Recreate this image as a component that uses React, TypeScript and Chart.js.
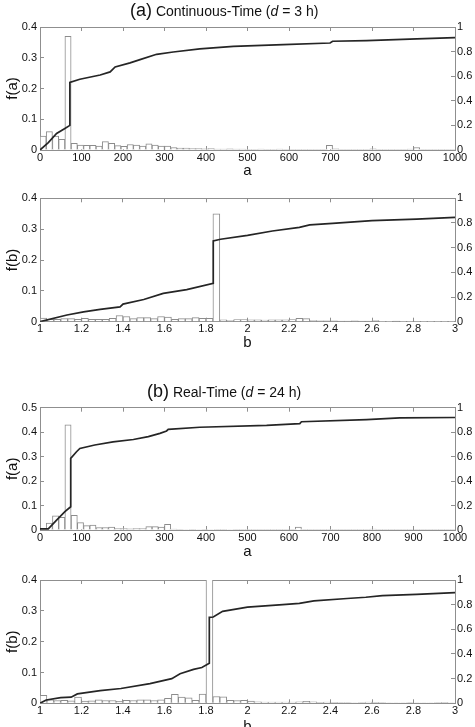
import React, { useEffect, useRef } from 'react';
import { Chart, registerables } from 'chart.js';

Chart.register(...registerables);

const FONT = "'Liberation Sans', Arial, Helvetica, sans-serif";
const GRAY = '#8f8f8f';
const TEXT = '#111111';

// ---------- Panel (a), top: a histogram ----------
const p1BinStart = 0;
const p1BinWidth = 15;
const p1Hist = [
  0.045, 0.06, 0.045, 0.035, 0.37, 0.022, 0.016, 0.015, 0.015, 0.013,
  0.027, 0.022, 0.014, 0.012, 0.018, 0.016, 0.013, 0.02, 0.016, 0.013,
  0.013, 0.008, 0.006, 0.006, 0.005, 0.005, 0.004, 0.005, 0.003, 0.003,
  0.004, 0.003, 0.003, 0.002, 0.002, 0.003, 0.002, 0.002, 0.003, 0.002,
  0.002, 0.002, 0.001, 0.002, 0.001, 0.002, 0.015, 0.004, 0.002, 0.001,
  0.001, 0.002, 0.001, 0.004, 0.002, 0.001, 0.001, 0.002, 0.001, 0.003,
  0.008, 0.002, 0.001, 0.001, 0.001, 0.001, 0.001,
];
const p1CdfX = [0, 20, 40, 60, 72, 72, 96, 145, 169, 181, 217, 241, 281, 321, 385, 466, 586, 699, 705, 787, 908, 1000];
const p1CdfY = [0, 0.06, 0.135, 0.175, 0.2, 0.55, 0.575, 0.61, 0.635, 0.675, 0.708, 0.735, 0.778, 0.797, 0.822, 0.843, 0.857, 0.87, 0.884, 0.89, 0.903, 0.914];

// ---------- Panel (a), second: b histogram ----------
const p2BinStart = 1;
const p2BinWidth = 1 / 30;
const p2Hist = [
  0.012, 0.008, 0.008, 0.01, 0.01, 0.008, 0.011, 0.008, 0.008, 0.008,
  0.011, 0.02, 0.017, 0.01, 0.013, 0.013, 0.01, 0.017, 0.015, 0.008,
  0.01, 0.01, 0.013, 0.011, 0.011, 0.35, 0.006, 0.004, 0.007, 0.007,
  0.006, 0.006, 0.005, 0.006, 0.006, 0.006, 0.007, 0.011, 0.01, 0.004,
  0.003, 0.003, 0.003, 0.002, 0.002, 0.003, 0.002, 0.002, 0.004, 0.001,
  0.001, 0.002, 0.001, 0.001, 0.001, 0.001, 0.001, 0.001, 0.001, 0.001,
];
const p2CdfX = [1, 1.13, 1.21, 1.29, 1.386, 1.4, 1.5, 1.594, 1.707, 1.835, 1.835, 1.87, 2.0, 2.12, 2.25, 2.3, 2.41, 2.6, 2.815, 3.0];
const p2CdfY = [0, 0.054, 0.08, 0.1, 0.12, 0.143, 0.18, 0.23, 0.26, 0.31, 0.654, 0.668, 0.7, 0.735, 0.765, 0.784, 0.797, 0.819, 0.832, 0.846];

// ---------- Panel (b), third: a histogram ----------
const p3BinStart = 0;
const p3BinWidth = 15;
const p3Hist = [
  0.005, 0.028, 0.058, 0.052, 0.43, 0.06, 0.03, 0.018, 0.02, 0.01,
  0.01, 0.012, 0.006, 0.006, 0.005, 0.006, 0.006, 0.014, 0.014, 0.012,
  0.023, 0.004, 0.003, 0.002, 0.003, 0.002, 0.001, 0.002, 0.001, 0.001,
  0.002, 0.001, 0.001, 0.001, 0.001, 0.001, 0.001, 0.001, 0.001, 0.001,
  0.001, 0.012, 0.001, 0.001, 0.001, 0.001, 0.003, 0.001, 0.001, 0.001,
  0.001, 0.001, 0.001, 0.004, 0.001, 0.001, 0.001, 0.001, 0.001, 0.001,
  0.001, 0.001, 0.001, 0.001, 0.001, 0.001, 0.001,
];
const p3CdfX = [0, 20, 40, 60, 74, 74, 88, 96, 132, 176, 225, 261, 289, 305, 309, 385, 546, 626, 630, 787, 867, 1000];
const p3CdfY = [0.01, 0.01, 0.08, 0.15, 0.19, 0.586, 0.64, 0.667, 0.695, 0.72, 0.74, 0.763, 0.79, 0.81, 0.823, 0.84, 0.855, 0.87, 0.885, 0.902, 0.916, 0.92];

// ---------- Panel (b), fourth: b histogram ----------
const p4BinStart = 1;
const p4BinWidth = 1 / 30;
const p4Hist = [
  0.026, 0.011, 0.009, 0.01, 0.008, 0.02, 0.007, 0.008, 0.011, 0.009,
  0.009, 0.006, 0.01, 0.009, 0.011, 0.011, 0.009, 0.011, 0.016, 0.029,
  0.02, 0.018, 0.01, 0.03, 0.45, 0.022, 0.021, 0.01, 0.009, 0.01,
  0.007, 0.005, 0.004, 0.004, 0.004, 0.004, 0.004, 0.005, 0.006, 0.005,
  0.003, 0.004, 0.003, 0.002, 0.002, 0.001, 0.002, 0.004, 0.003, 0.002,
  0.001, 0.001, 0.001, 0.002, 0.001, 0.001, 0.001, 0.002, 0.003, 0.001,
];
const p4CdfX = [1, 1.03, 1.1, 1.15, 1.18, 1.29, 1.39, 1.53, 1.635, 1.675, 1.74, 1.78, 1.816, 1.816, 1.835, 1.88, 2.0, 2.17, 2.25, 2.32, 2.48, 2.57, 2.65, 2.815, 3.0];
const p4CdfY = [0, 0.027, 0.046, 0.05, 0.076, 0.103, 0.12, 0.16, 0.2, 0.24, 0.275, 0.29, 0.324, 0.697, 0.7, 0.746, 0.78, 0.8, 0.81, 0.83, 0.85, 0.86, 0.873, 0.884, 0.897];

const fmt = (v: any) => String(Math.round(Number(v) * 1000) / 1000);

type PanelProps = {
  top: number;
  height: number;
  areaTop: number;
  areaBottom: number;
  xMin: number;
  xMax: number;
  xStep: number;
  yMax: number;
  hist: number[];
  binStart: number;
  binWidth: number;
  cdfX: number[];
  cdfY: number[];
  xLabel: string;
  yLabel: string;
  xTitleY: number;
};

function Panel(p: PanelProps) {
  const ref = useRef<HTMLCanvasElement | null>(null);
  useEffect(() => {
    if (!ref.current) return;
    const histPts = p.hist.map((v, i) => ({ x: p.binStart + (i + 0.5) * p.binWidth, y: v }));
    const cdfPts = p.cdfX.map((x, i) => ({ x, y: p.cdfY[i] }));
    const xAxisH = p.top + p.height - p.areaBottom;
    const xTitlePad = Math.max(0, p.top + p.height - p.xTitleY - 9);
    const tickFont = { family: FONT, size: 11 };
    const chart = new Chart(ref.current, {
      type: 'bar',
      data: {
        datasets: [
          {
            type: 'line',
            data: cdfPts,
            xAxisID: 'x',
            yAxisID: 'y1',
            borderColor: '#252525',
            borderWidth: 1.7,
            pointRadius: 0,
            fill: false,
            tension: 0,
            order: 0,
          } as any,
          {
            type: 'bar',
            data: histPts,
            xAxisID: 'x',
            yAxisID: 'y',
            backgroundColor: '#ffffff',
            borderColor: '#8c8c8c',
            borderWidth: 1,
            barPercentage: 1,
            categoryPercentage: 1,
            order: 1,
          } as any,
        ],
      },
      options: {
        responsive: false,
        animation: false,
        devicePixelRatio: 1,
        layout: { padding: { top: p.areaTop - p.top, left: 0, right: 0, bottom: 0 } },
        plugins: {
          legend: { display: false },
          tooltip: { enabled: false },
          title: { display: false },
        },
        scales: {
          x: {
            type: 'linear',
            position: 'bottom',
            min: p.xMin,
            max: p.xMax,
            offset: false,
            ticks: { stepSize: p.xStep, padding: 5, font: tickFont, color: TEXT, callback: fmt, maxRotation: 0, autoSkip: false },
            grid: { offset: false, drawOnChartArea: false, tickLength: -4, color: GRAY },
            border: { display: true, color: GRAY },
            title: { display: true, text: p.xLabel, color: TEXT, font: { family: FONT, size: 15 }, padding: { top: 0, bottom: xTitlePad } },
            afterFit: (s: any) => { s.height = xAxisH; },
          },
          x2: {
            type: 'linear',
            position: 'top',
            min: p.xMin,
            max: p.xMax,
            offset: false,
            ticks: { stepSize: p.xStep, display: false },
            grid: { offset: false, drawOnChartArea: false, tickLength: -4, color: GRAY },
            border: { display: true, color: GRAY },
            afterFit: (s: any) => { s.height = 0; },
          },
          y: {
            type: 'linear',
            position: 'left',
            min: 0,
            max: p.yMax,
            ticks: { stepSize: 0.1, padding: 7, font: tickFont, color: TEXT, callback: fmt },
            grid: { drawOnChartArea: false, tickLength: -4, color: GRAY },
            border: { display: true, color: GRAY },
            title: { display: true, text: p.yLabel, color: TEXT, font: { family: FONT, size: 15 }, padding: { top: 3.9, bottom: 0 } },
            afterFit: (s: any) => { s.width = 40; },
          },
          y1: {
            type: 'linear',
            position: 'right',
            min: 0,
            max: 1,
            ticks: { stepSize: 0.2, padding: 6, font: tickFont, color: TEXT, callback: fmt },
            grid: { drawOnChartArea: false, tickLength: -4, color: GRAY },
            border: { display: true, color: GRAY },
            afterFit: (s: any) => { s.width = 20; },
          },
        },
      } as any,
    });
    return () => chart.destroy();
  }, []);
  return (
    <div style={{ position: 'absolute', left: 0, top: p.top, width: 475, height: p.height }}>
      <canvas ref={ref} width={475} height={p.height} style={{ width: 475, height: p.height, display: 'block' }} />
    </div>
  );
}

const titleStyle = (left: number, top: number): React.CSSProperties => ({
  position: 'absolute',
  left,
  top,
  fontFamily: FONT,
  fontSize: 18,
  lineHeight: '20px',
  whiteSpace: 'nowrap',
  color: TEXT,
});

export default function App() {
  return (
    <div style={{ position: 'absolute', left: 0, top: 0, width: 475, height: 727, overflow: 'hidden', background: '#fff' }}>
      <Panel top={0} height={182} areaTop={27} areaBottom={150} xMin={0} xMax={1000} xStep={100} yMax={0.4}
        hist={p1Hist} binStart={p1BinStart} binWidth={p1BinWidth} cdfX={p1CdfX} cdfY={p1CdfY}
        xLabel="a" yLabel="f(a)" xTitleY={170.5} />
      <Panel top={182} height={170} areaTop={198.3} areaBottom={321.7} xMin={1} xMax={3} xStep={0.2} yMax={0.4}
        hist={p2Hist} binStart={p2BinStart} binWidth={p2BinWidth} cdfX={p2CdfX} cdfY={p2CdfY}
        xLabel="b" yLabel="f(b)" xTitleY={343.3} />
      <Panel top={352} height={210} areaTop={407.7} areaBottom={530} xMin={0} xMax={1000} xStep={100} yMax={0.5}
        hist={p3Hist} binStart={p3BinStart} binWidth={p3BinWidth} cdfX={p3CdfX} cdfY={p3CdfY}
        xLabel="a" yLabel="f(a)" xTitleY={551.7} />
      <Panel top={562} height={180} areaTop={580} areaBottom={703.3} xMin={1} xMax={3} xStep={0.2} yMax={0.4}
        hist={p4Hist} binStart={p4BinStart} binWidth={p4BinWidth} cdfX={p4CdfX} cdfY={p4CdfY}
        xLabel="b" yLabel="f(b)" xTitleY={727} />
      <div style={titleStyle(130, 0)}>
        <span>(a)</span>
        <span style={{ fontSize: 14 }}> Continuous-Time (<i>d</i> = 3 h)</span>
      </div>
      <div style={titleStyle(147, 380.5)}>
        <span>(b)</span>
        <span style={{ fontSize: 14 }}> Real-Time (<i>d</i> = 24 h)</span>
      </div>
    </div>
  );
}
